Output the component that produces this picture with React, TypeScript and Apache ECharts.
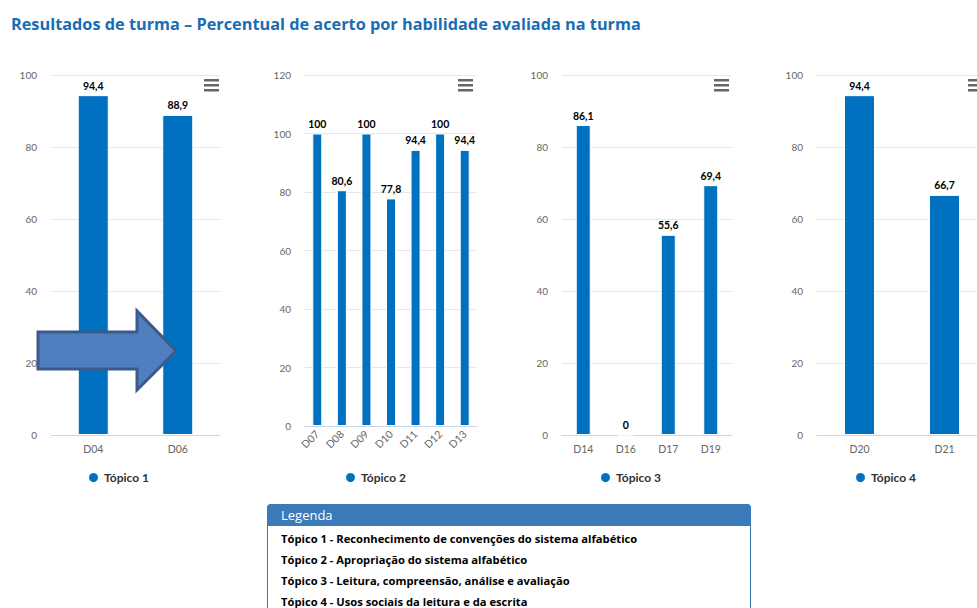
import React, { useEffect, useRef } from "react";
import * as echarts from "echarts";

const titleText = "Resultados de turma – Percentual de acerto por habilidade avaliada na turma";
const seriesNames = ["Tópico 1", "Tópico 2", "Tópico 3", "Tópico 4"];
const cats1 = ["D04", "D06"];
const vals1 = [94.4, 88.9];
const cats2 = ["D07", "D08", "D09", "D10", "D11", "D12", "D13"];
const vals2 = [100, 80.6, 100, 77.8, 94.4, 100, 94.4];
const cats3 = ["D14", "D16", "D17", "D19"];
const vals3 = [86.1, 0, 55.6, 69.4];
const cats4 = ["D20", "D21"];
const vals4 = [94.4, 66.7];
const yMax = [100, 120, 100, 100];
const legendTitle = "Legenda";
const legendLines = [
  "Tópico 1 - Reconhecimento de convenções do sistema alfabético",
  "Tópico 2 - Apropriação do sistema alfabético",
  "Tópico 3 - Leitura, compreensão, análise e avaliação",
  "Tópico 4 - Usos sociais da leitura e da escrita",
];

const FONT = "Lato, 'Open Sans', sans-serif";
const WIDE = "'Open Sans', Lato, sans-serif";
const BLUE = "#0070c0";

export default function App() {
  const ref = useRef<HTMLDivElement>(null);
  useEffect(() => {
    if (!ref.current) return;
    const chart = echarts.init(ref.current, null, { renderer: "svg" });
    const cats = [cats1, cats2, cats3, cats4];
    const vals = [vals1, vals2, vals3, vals4];
    const grids = [
      { left: 51, top: 75, width: 169, height: 360 },
      { left: 305, top: 75, width: 172, height: 351 },
      { left: 562, top: 75, width: 170, height: 360 },
      { left: 817, top: 75, width: 170, height: 360 },
    ];
    const barW = [31, 10, 15, 31];
    const legendLeft = [82, 339, 594, 849];
    const menuX = [204, 458, 714, 968];

    const fmt = (v: number) => String(v).replace(".", ",");

    const graphics: any[] = [];
    menuX.forEach((x) => {
      [80, 85, 90].forEach((y) => {
        graphics.push({
          type: "rect",
          shape: { x, y: y - 1, width: 15, height: 2.5 },
          style: { fill: "#666" },
          silent: true,
        });
      });
    });
    graphics.push({
      type: "polygon",
      shape: {
        points: [
          [38, 332], [137, 332], [137, 311], [176, 351], [137, 390], [137, 369], [38, 369],
        ],
      },
      style: { fill: "#4f7fbf", stroke: "#3a5a8c", lineWidth: 3 },
      z: 100,
    });
    graphics.push({
      type: "rect",
      shape: { x: 267.5, y: 504.5, width: 483, height: 120, r: [4, 4, 0, 0] },
      style: { fill: "#fff", stroke: "#3a7ab8", lineWidth: 1 },
    });
    graphics.push({
      type: "rect",
      shape: { x: 267, y: 504, width: 484, height: 22, r: [4, 4, 0, 0] },
      style: { fill: "#3a7ab8" },
    });
    graphics.push({
      type: "text",
      x: 281,
      y: 515,
      style: {
        text: legendTitle,
        fill: "#fff",
        font: `13px ${WIDE}`,
        verticalAlign: "middle",
      },
    });
    legendLines.forEach((t, i) => {
      graphics.push({
        type: "text",
        x: 281,
        y: 538 + i * 21.3,
        style: {
          text: t,
          fill: "#000",
          font: `bold 11.2px ${WIDE}`,
          verticalAlign: "middle",
        },
      });
    });

    chart.setOption({
      animation: false,
      title: {
        text: titleText,
        left: 6,
        top: 11,
        textStyle: { color: "#1a6db3", fontSize: 16.3, fontWeight: "bold", fontFamily: WIDE },
      },
      legend: seriesNames.map((n, i) => ({
        data: [n],
        left: legendLeft[i],
        top: 466,
        icon: "circle",
        itemWidth: 11,
        itemHeight: 11,
        itemGap: 6,
        textStyle: { fontFamily: FONT, fontSize: 12, fontWeight: "bold", color: "#333" },
      })),
      grid: grids.map((g) => ({ ...g, containLabel: false })),
      xAxis: cats.map((c, i) => ({
        type: "category",
        gridIndex: i,
        data: c,
        axisLine: { lineStyle: { color: "#ccd6eb" } },
        axisTick: { lineStyle: { color: "#ccd6eb" }, length: 9 },
        axisLabel: {
          color: "#666",
          fontFamily: FONT,
          fontSize: 10.5,
          margin: i === 1 ? 6 : 8,
          rotate: i === 1 ? 45 : 0,
          interval: 0,
        },
      })),
      yAxis: cats.map((_, i) => ({
        type: "value",
        gridIndex: i,
        min: 0,
        max: yMax[i],
        interval: 20,
        axisLine: { show: false },
        axisTick: { show: false },
        splitLine: { lineStyle: { color: "#e6e6e6" } },
        axisLabel: { color: "#666", fontFamily: FONT, fontSize: 10, margin: 14 },
      })),
      series: vals.map((v, i) => ({
        type: "bar",
        name: seriesNames[i],
        xAxisIndex: i,
        yAxisIndex: i,
        data: v,
        barWidth: barW[i],
        itemStyle: { color: BLUE, borderColor: "#fff", borderWidth: 1 },
        label: {
          show: true,
          position: "top",
          distance: 4,
          formatter: (p: any) => fmt(p.value),
          color: "#000",
          fontFamily: FONT,
          fontSize: 10.5,
          fontWeight: "bold",
          textBorderColor: "#fff",
          textBorderWidth: 2,
        },
      })),
      graphic: graphics,
    });
    return () => chart.dispose();
  }, []);
  return (
    <div
      style={{
        position: "fixed",
        left: 0,
        top: 0,
        width: 977,
        height: 608,
        overflow: "hidden",
        background: "#fff",
      }}
    >
      <div ref={ref} style={{ width: 1000, height: 608 }} />
    </div>
  );
}
